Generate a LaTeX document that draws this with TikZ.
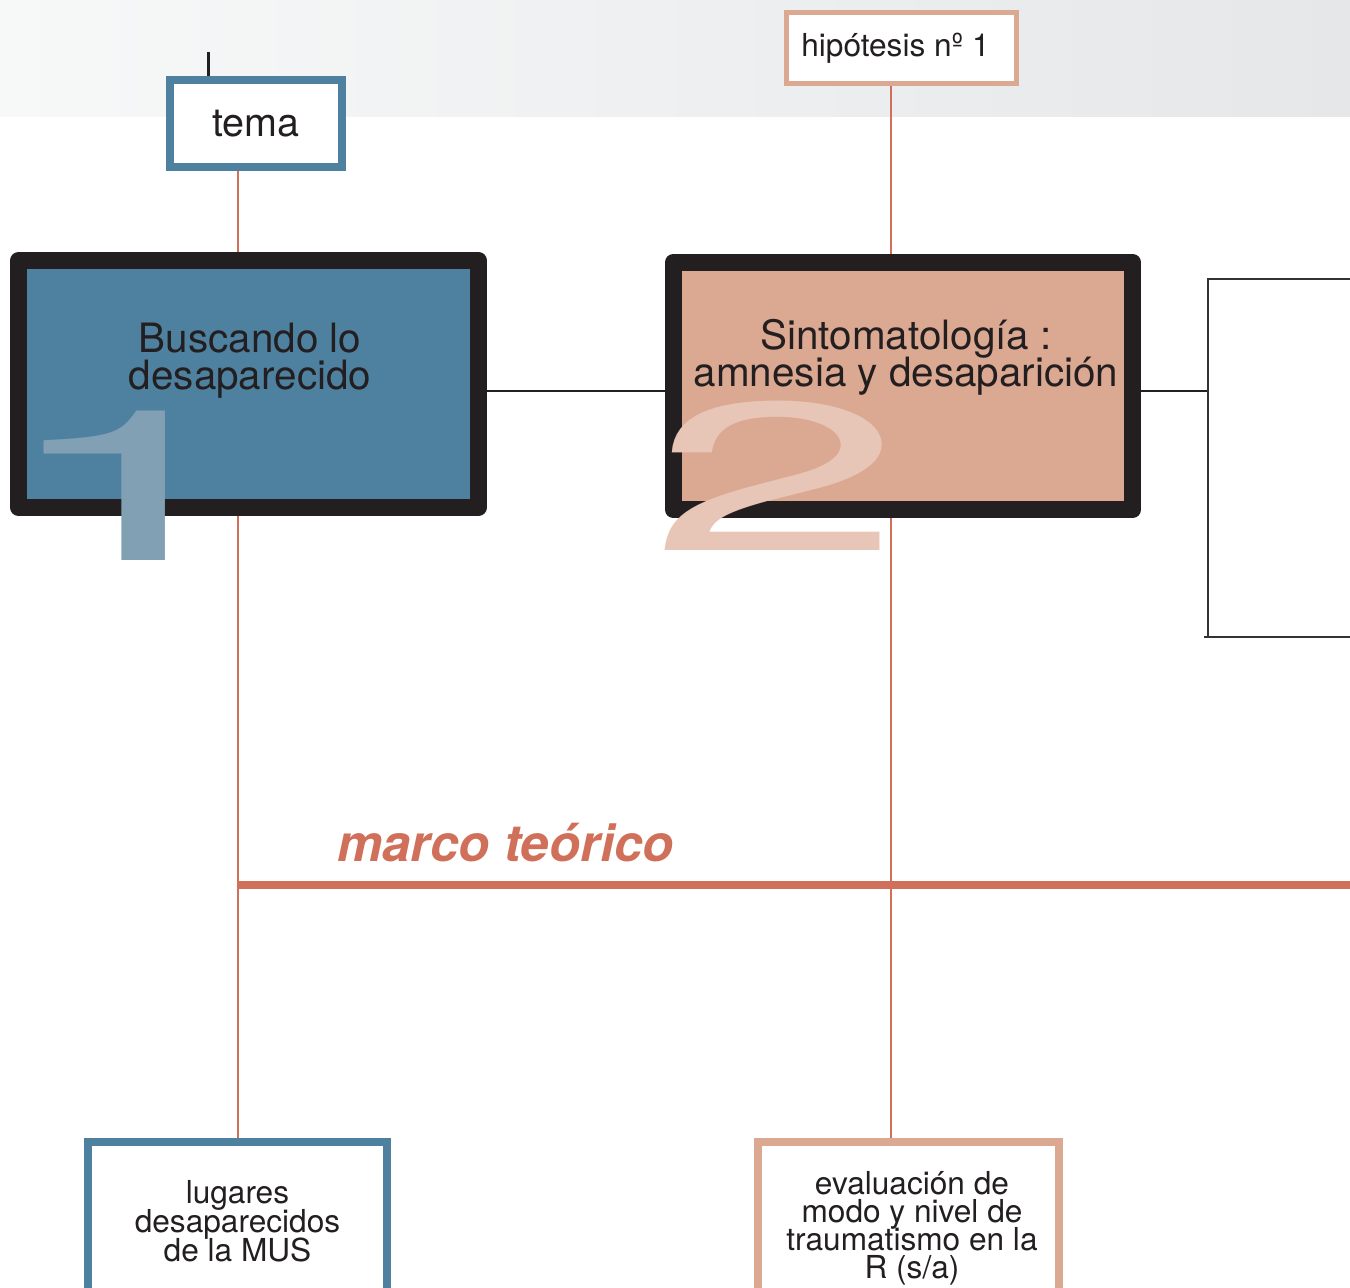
\documentclass[tikz,border=0pt]{standalone}
\usepackage{fontspec}
\setmainfont{TeX Gyre Heros}
\usetikzlibrary{backgrounds}
\definecolor{azul}{HTML}{4E81A0}
\definecolor{salmon}{HTML}{DBA892}
\definecolor{rojizo}{HTML}{D0705A}
\definecolor{negro}{HTML}{231F20}
\definecolor{azulclaro}{HTML}{82A0B4}
\definecolor{salmonclaro}{HTML}{E8C6B7}
\definecolor{banda1}{HTML}{F7F8F8}
\definecolor{banda2}{HTML}{E6E7E9}
\begin{document}
\lineskiplimit=-20pt
\begin{tikzpicture}[x=0.02cm,y=-0.02cm,
   caja/.style={draw=negro,line width=0.34cm,line join=round,
     minimum width=9.2cm,minimum height=4.94cm},
   etiqueta/.style={draw=#1,line width=0.16cm,fill=white,text=negro,
     align=center,inner sep=0pt},
   hilo/.style={rojizo,line width=0.04cm},
   linea/.style={negro,line width=0.04cm}]
   \clip (0,0) rectangle (1350,1288);

   % cajas
   \node[etiqueta=azul,minimum width=3.44cm,minimum height=1.74cm,
     font=\fontsize{22.5}{24}\selectfont] (tema) at (256,123.5) {tema};
   \node[etiqueta=salmon,line width=0.1cm,minimum width=4.6cm,minimum height=1.42cm,
     font=\fontsize{18}{20}\selectfont] (hip) at (901.5,48) {hipótesis nº 1\hspace{0.24cm}};
   \node[caja,fill=azul] (b1) at (248.5,384) {};
   \node[caja,fill=salmon] (b2) at (903,386) {};
   \node[etiqueta=azul,minimum width=5.98cm,minimum height=3.16cm,
     font=\fontsize{18}{16.5}\selectfont] (lug) at (237.5,1221)
     {lugares\\desaparecidos\\de la MUS};
   \node[etiqueta=salmon,minimum width=6.02cm,minimum height=3.44cm,
     font=\fontsize{18}{16}\selectfont] (eval) at (908.5,1228)
     {\hspace{0.14cm}evaluación de\\\hspace{0.14cm}modo y nivel de\\\hspace{0.14cm}traumatismo en la\\\hspace{0.14cm}R (s/a)};

   \coordinate (eje) at (891,0);
   \coordinate (rb) at (1208,391);
   \coordinate (fin) at (1350,885);
   \coordinate (tick) at (208,52);

   \begin{pgfonlayer}{background}
     \shade[left color=banda1,right color=banda2] (0,0) rectangle (1350,116);
     \draw[hilo] (lug.north |- tema.south) -- (lug.north);
     \draw[hilo] (hip.south -| eje) -- (eval.north -| eje);
     \draw[rojizo,line width=0.16cm] (lug.north |- fin) -- (fin);
     \draw[linea] (b1.east |- rb) -- (b2.west |- rb);
     \draw[linea] (b2.east |- rb) -- (rb);
     \draw[negro,line width=0.06cm] (tick) -- (tick |- tema.north);
   \end{pgfonlayer}
   \draw[linea,black!80] (1350,279) -- (1208,279) -- (1208,637) -- (1204,637) -- (1350,637);

   % numeros
   \node[azulclaro,anchor=base west,inner sep=0pt,font=\fontsize{120}{120}\selectfont]
     (uno) at (-7,560) {\scalebox{2.35}[1]{1}};
   \node[salmonclaro,anchor=base west,inner sep=0pt,font=\fontsize{120}{120}\selectfont]
     (dos) at (649,550) {\scalebox{2.16}[1]{2}};

   \node[text=negro,align=center,font=\fontsize{23}{21}\selectfont] (t1) at (250,361)
     {Buscando lo\\desaparecido};
   \node[text=negro,align=center,font=\fontsize{23}{21}\selectfont] (t2) at (906,357)
     {Sintomatología :\\amnesia y desaparición};
   \node[rojizo,anchor=base west,inner sep=0pt,
     font=\fontsize{29}{30}\selectfont\bfseries\itshape] (marco) at (337,861)
     {marco teórico};
\end{tikzpicture}
\end{document}
